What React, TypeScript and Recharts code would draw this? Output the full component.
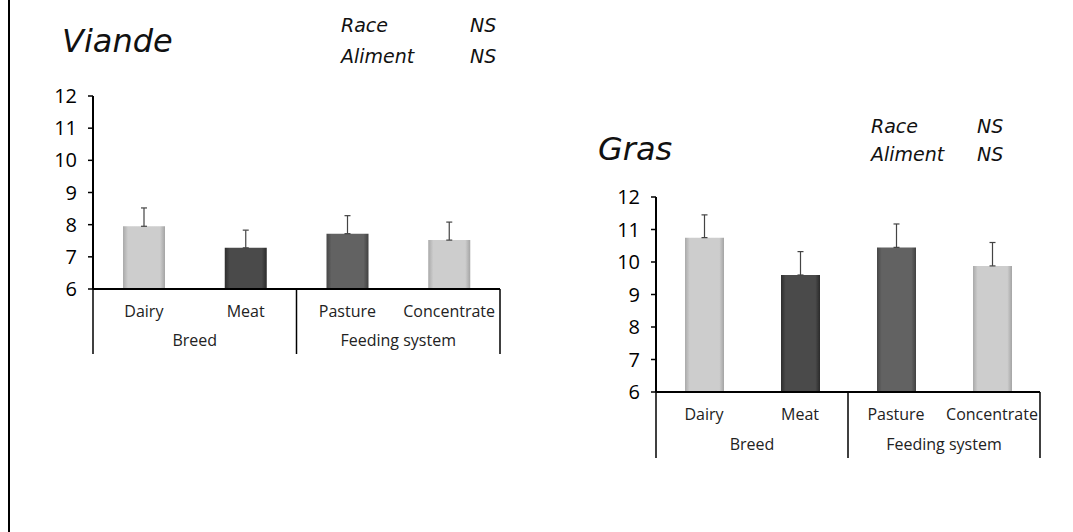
import React from 'react';
import { BarChart, Bar, XAxis, YAxis, ErrorBar, Cell } from 'recharts';

const categories = ['Dairy', 'Meat', 'Pasture', 'Concentrate'];
const groups = ['Breed', 'Breed', 'Feeding system', 'Feeding system'];
const yTicks = [6, 7, 8, 9, 10, 11, 12];

const viandeValues = [7.95, 7.28, 7.72, 7.52];
const viandeErrors = [0.57, 0.55, 0.56, 0.56];
const grasValues = [10.75, 9.6, 10.45, 9.88];
const grasErrors = [0.7, 0.72, 0.72, 0.72];

const barGradients = ['light', 'dark', 'mid', 'light'];

const buildRows = (values: number[], errors: number[]) =>
  categories.map((c, i) => ({
    cat: c,
    group: groups[i],
    value: values[i],
    err: [0, errors[i]],
  }));

const viandeData = buildRows(viandeValues, viandeErrors);
const grasData = buildRows(grasValues, grasErrors);

const FONT = 'Open Sans, "Noto Sans", sans-serif';
const HAND = '"DejaVu Sans", sans-serif';

const Gradients = () => (
  <defs>
    <linearGradient id="g-light" x1="0" y1="0" x2="1" y2="0">
      <stop offset="0" stopColor="#a9a9a9" />
      <stop offset="0.12" stopColor="#cdcdcd" />
      <stop offset="0.88" stopColor="#cdcdcd" />
      <stop offset="1" stopColor="#a4a4a4" />
    </linearGradient>
    <linearGradient id="g-dark" x1="0" y1="0" x2="1" y2="0">
      <stop offset="0" stopColor="#2e2e2e" />
      <stop offset="0.12" stopColor="#4a4a4a" />
      <stop offset="0.88" stopColor="#4a4a4a" />
      <stop offset="1" stopColor="#2a2a2a" />
    </linearGradient>
    <linearGradient id="g-mid" x1="0" y1="0" x2="1" y2="0">
      <stop offset="0" stopColor="#474747" />
      <stop offset="0.12" stopColor="#626262" />
      <stop offset="0.88" stopColor="#626262" />
      <stop offset="1" stopColor="#414141" />
    </linearGradient>
  </defs>
);

// two-level category axis: item label, group label and divider lines
const makeTick = (catDy: number, grpDy: number, lineLen: number, fontSize: number) => (props: any) => {
  const { x, y, payload } = props;
  const half = payload.offset || 0;
  const i = payload.index;
  const top = y - 8;
  return (
    <g>
      <text x={x} y={y + catDy} textAnchor="middle" fontSize={fontSize} fill="#222" fontFamily={FONT}>
        {payload.value}
      </text>
      {i % 2 === 0 && (
        <>
          <line x1={x - half} x2={x - half} y1={top} y2={top + lineLen} stroke="#000" strokeWidth={1.5} />
          <text x={x + half} y={y + grpDy} textAnchor="middle" fontSize={fontSize} fill="#222" fontFamily={FONT}>
            {groups[i]}
          </text>
        </>
      )}
      {i === categories.length - 1 && (
        <line x1={x + half} x2={x + half} y1={top} y2={top + lineLen} stroke="#000" strokeWidth={1.5} />
      )}
    </g>
  );
};

interface PanelProps {
  data: any[];
  left: number;
  top: number;
  width: number;
  plotTop: number;
  plotHeight: number;
  plotLeft: number;
  plotRight: number;
  barSize: number;
  catFont: number;
  catDy: number;
  grpDy: number;
  lineLen: number;
}

const Panel = (p: PanelProps) => (
  <div style={{ position: 'absolute', left: p.left, top: p.top }}>
    <BarChart
      width={p.width}
      height={p.plotTop + p.plotHeight + 80}
      data={p.data}
      barSize={p.barSize}
      margin={{ top: p.plotTop, right: p.width - p.plotRight, left: p.plotLeft - 50, bottom: 0 }}
    >
      <Gradients />
      <XAxis
        dataKey="cat"
        height={80}
        axisLine={{ stroke: '#000', strokeWidth: 2 }}
        tickLine={false}
        interval={0}
        tick={makeTick(p.catDy, p.grpDy, p.lineLen, p.catFont)}
      />
      <YAxis
        width={50}
        domain={[6, 12]}
        ticks={yTicks}
        interval={0}
        allowDataOverflow
        axisLine={{ stroke: '#000', strokeWidth: 2 }}
        tickLine={{ stroke: '#000', strokeWidth: 1.5 }}
        tickSize={5}
        tickMargin={11}
        tick={{ fontSize: 20, fill: '#000', fontFamily: FONT }}
      />
      <Bar dataKey="value" isAnimationActive={false}>
        {p.data.map((d, i) => (
          <Cell key={d.cat} fill={`url(#g-${barGradients[i]})`} />
        ))}
        <ErrorBar dataKey="err" direction="y" width={3} stroke="#444" strokeWidth={1.2} />
      </Bar>
    </BarChart>
  </div>
);

const hand = (size: number): React.CSSProperties => ({
  position: 'absolute',
  fontFamily: HAND,
  fontStyle: 'italic',
  fontSize: size,
  color: '#111',
  whiteSpace: 'nowrap',
  lineHeight: 1,
});

export default function App() {
  return (
    <div style={{ position: 'absolute', left: 0, top: 0, width: 1073, height: 532, background: '#fff', overflow: 'hidden' }}>
      <div style={{ position: 'absolute', left: 8, top: 0, width: 2, height: 532, background: '#000' }} />

      <div style={{ ...hand(32), left: 62, top: 25 }}>Viande</div>
      <div style={{ ...hand(19), left: 341, top: 16 }}>Race</div>
      <div style={{ ...hand(19), left: 470, top: 16 }}>NS</div>
      <div style={{ ...hand(19), left: 341, top: 47 }}>Aliment</div>
      <div style={{ ...hand(19), left: 470, top: 47 }}>NS</div>

      <div style={{ ...hand(32), left: 598, top: 133 }}>Gras</div>
      <div style={{ ...hand(19), left: 871, top: 117 }}>Race</div>
      <div style={{ ...hand(19), left: 977, top: 117 }}>NS</div>
      <div style={{ ...hand(19), left: 871, top: 145 }}>Aliment</div>
      <div style={{ ...hand(19), left: 977, top: 145 }}>NS</div>

      <Panel
        data={viandeData}
        left={0}
        top={0}
        width={520}
        plotTop={96}
        plotHeight={193}
        plotLeft={93}
        plotRight={500}
        barSize={42}
        catFont={16}
        catDy={20}
        grpDy={49}
        lineLen={65}
      />
      <Panel
        data={grasData}
        left={540}
        top={0}
        width={520}
        plotTop={197}
        plotHeight={195}
        plotLeft={116}
        plotRight={500}
        barSize={39}
        catFont={16}
        catDy={20}
        grpDy={50}
        lineLen={66}
      />
    </div>
  );
}
